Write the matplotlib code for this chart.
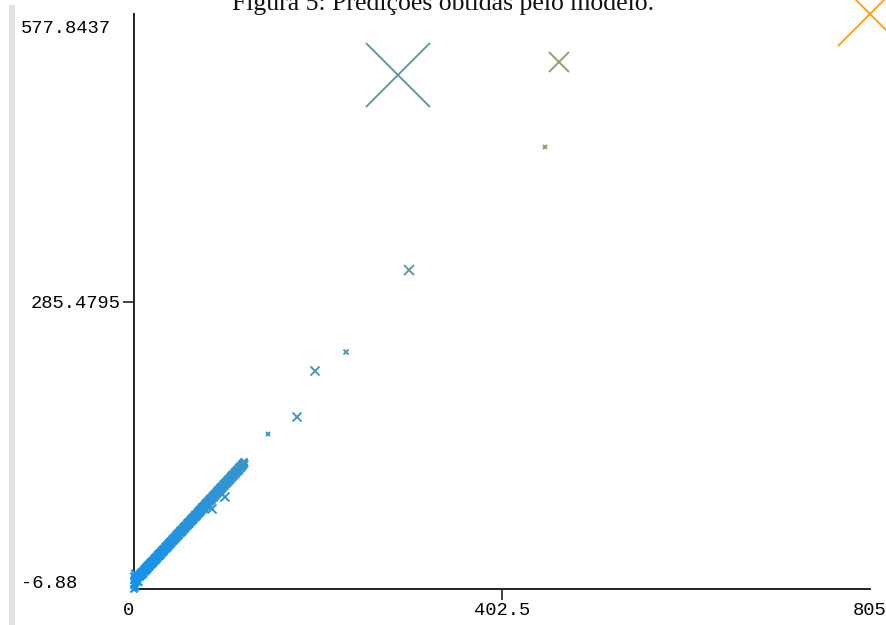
import matplotlib
matplotlib.use("Agg")
import matplotlib.pyplot as plt
from matplotlib.colors import LinearSegmentedColormap
from matplotlib.patches import Rectangle
from matplotlib.transforms import blended_transform_factory
import numpy as np

# ---- data -------------------------------------------------------------
titulo = "Figura 5: Predições obtidas pelo modelo."
x_min, x_max = 0, 805
y_min, y_max = -6.88, 577.8437
x_tick_labels = ["0", "402.5", "805"]
y_tick_labels = ["-6.88", "285.4795", "577.8437"]

# dense cluster of (real, predicted) values
cluster_real = [0, 0, 0, 0, 1, 1, 2, 2, 3, 3, 4, 5, 5,
                6, 7, 8, 9, 10, 11, 12, 13, 14, 15, 16, 17, 18, 19, 20,
                21, 22, 23, 24, 25, 26, 27, 28, 29, 30, 31, 32, 33, 34, 35,
                36, 37, 38, 39, 40, 41, 42, 43, 44, 45, 46, 47, 48, 49, 50,
                51, 52, 53, 54, 55, 56, 57, 58, 59, 60, 61, 62, 63, 64, 65,
                66, 67, 68, 69, 70, 71, 72, 73, 74, 75, 76, 77, 78, 79, 80,
                81, 82, 83, 84, 85, 86, 87, 88, 89, 90, 91, 92, 93, 94, 95,
                96, 97, 98, 99, 100, 101, 102, 103, 104, 105, 106, 107, 108,
                109, 110, 111, 112, 113, 114, 115, 116, 117, 118, 119, 120, 121]
cluster_pred = [-6.88, -3.0, 2.0, 6.0, 9.0, -1.0, 4.0, -5.0, 1.0, 7.0, 3.0, 6.0, 0.0,
                7.2, 5.9, 10.1, 8.4, 8.0, 12.6, 11.3, 15.2, 12.4, 16.1, 17.8, 15.6, 19.9, 18.2, 21.5,
                19.4, 23.8, 22.1, 25.6, 23.2, 27.9, 26.3, 29.4, 27.1, 31.8, 30.2, 33.5, 31.4, 35.9, 34.0,
                37.2, 35.3, 39.8, 38.1, 41.6, 39.5, 43.9, 42.2, 45.1, 43.4, 47.8, 46.0, 49.6, 47.5, 51.9,
                50.3, 53.2, 51.1, 55.7, 54.2, 57.5, 55.6, 59.8, 58.0, 61.4, 59.3, 63.7, 62.1, 65.5, 63.4,
                67.9, 66.2, 69.1, 67.3, 71.8, 70.0, 73.6, 71.5, 75.9, 74.1, 77.3, 75.2, 79.7, 78.0, 81.5,
                79.6, 83.8, 82.3, 85.2, 83.5, 87.9, 86.1, 89.4, 87.7, 91.8, 90.2, 93.6, 91.4, 95.9, 94.3,
                97.1, 95.5, 99.7, 98.2, 101.4, 99.6, 103.9, 102.1, 105.3, 103.6, 107.8, 106.2, 109.5,
                107.7, 111.9, 110.1, 113.6, 111.8, 115.2, 113.4, 117.7, 116.0, 119.4, 117.9, 121.6, 120.3]

cluster_real_b = [6.5, 7.5, 8.5, 9.5, 10.5, 11.5, 12.5, 13.5, 14.5, 15.5, 16.5, 17.5, 18.5,
                  19.5, 20.5, 21.5, 22.5, 23.5, 24.5, 25.5, 26.5, 27.5, 28.5, 29.5, 30.5,
                  31.5, 32.5, 33.5, 34.5, 35.5, 36.5, 37.5, 38.5, 39.5, 40.5, 41.5, 42.5,
                  43.5, 44.5, 45.5, 46.5, 47.5, 48.5, 49.5, 50.5, 51.5, 52.5, 53.5, 54.5,
                  55.5, 56.5, 57.5, 58.5, 59.5, 60.5, 61.5, 62.5, 63.5, 64.5, 65.5, 66.5,
                  67.5, 68.5, 69.5, 70.5, 71.5, 72.5, 73.5, 74.5, 75.5, 76.5, 77.5, 78.5,
                  79.5, 80.5, 81.5, 82.5, 83.5, 84.5, 85.5, 86.5, 87.5, 88.5, 89.5, 90.5,
                  91.5, 92.5, 93.5, 94.5, 95.5, 96.5, 97.5, 98.5, 99.5, 100.5, 101.5, 102.5,
                  103.5, 104.5, 105.5, 106.5, 107.5, 108.5, 109.5, 110.5, 111.5, 112.5,
                  113.5, 114.5, 115.5, 116.5, 117.5, 118.5, 119.5, 120.5]
cluster_pred_b = [5.3, 9.6, 7.1, 11.4, 9.0, 13.8, 10.9, 14.6, 16.9, 13.8, 18.4, 16.2, 20.7,
                  17.9, 22.3, 20.1, 24.6, 21.8, 26.2, 24.4, 28.7, 25.9, 30.3, 28.2, 32.6,
                  29.8, 34.1, 32.5, 36.7, 33.9, 38.4, 36.1, 40.6, 37.8, 42.2, 40.4, 44.7,
                  41.9, 46.3, 44.2, 48.6, 45.8, 50.4, 48.1, 52.7, 49.9, 54.3, 52.2, 56.6,
                  53.8, 58.1, 56.4, 60.7, 57.9, 62.4, 60.2, 64.6, 61.8, 66.3, 64.1, 68.7,
                  65.9, 70.2, 68.4, 72.6, 69.8, 74.4, 72.1, 76.7, 73.9, 78.3, 76.2, 80.6,
                  77.8, 82.4, 80.1, 84.7, 81.9, 86.2, 84.3, 88.6, 85.8, 90.3, 88.2, 92.7,
                  89.9, 94.4, 92.1, 96.6, 93.8, 98.2, 96.4, 100.7, 97.9, 102.3, 100.2, 104.6,
                  101.8, 106.4, 104.1, 108.7, 105.9, 110.2, 108.3, 112.6, 109.8, 114.4,
                  112.2, 116.7, 113.9, 118.3, 116.1, 120.6, 118.4, 122.4]

# separate points (real, predicted, magnitude)
outlier_real = [85.3, 99.5, 146.6, 178.3, 198.0, 231.9, 300.8, 449.5, 464.8, 288.7, 805.0]
outlier_pred = [74.5, 86.7, 150.7, 168.0, 214.8, 234.1, 317.5, 442.6, 529.0, 515.8, 577.8437]
outlier_mag = [9, 9, 4, 9, 9, 5, 10, 4, 20, 64, 64]
cluster_mag = 7

# ---- figure -----------------------------------------------------------
W, H, DPI = 887, 625, 100
fig = plt.figure(figsize=(W / DPI, H / DPI), dpi=DPI)
fig.patch.set_facecolor("white")

# light grey strip on the left edge
fig.patches.append(Rectangle((9 / W, 0), 6 / W, 1 - 5 / H, transform=fig.transFigure,
                             facecolor="#e2e2e2", edgecolor="none", zorder=0))

ax = fig.add_axes([134 / W, 1 - 589 / H, (870 - 134) / W, (589 - 14) / H])
ax.set_xlim(x_min, x_max)
ax.set_ylim(y_min, y_max)
for s in ("top", "right"):
    ax.spines[s].set_visible(False)
for s in ("left", "bottom"):
    ax.spines[s].set_color("#222222")
    ax.spines[s].set_linewidth(1.4)

cmap = LinearSegmentedColormap.from_list("bo", ["#1592ea", "#ffa11c"])


def size_of(m):
    return (np.asarray(m, dtype=float) * 0.72) ** 2

all_real = cluster_real + cluster_real_b
all_pred = cluster_pred + cluster_pred_b
ax.scatter(all_real, all_pred, s=size_of([cluster_mag] * len(all_real)),
           marker="x", c=cmap(np.asarray(all_real) / x_max), linewidths=1.6,
           clip_on=False, zorder=3)
ax.scatter(outlier_real, outlier_pred, s=size_of(outlier_mag), marker="x",
           c=cmap(np.asarray(outlier_real) / x_max), linewidths=1.4,
           clip_on=False, zorder=3)

mono = "Liberation Mono"
fs = 13.5
ax.set_xticks([x_min, (x_min + x_max) / 2, x_max])
ax.set_xticklabels(x_tick_labels, fontfamily=mono, fontsize=fs)
ax.set_yticks([y_min, (y_min + y_max) / 2, y_max])
ax.set_yticklabels(["", y_tick_labels[1], ""], fontfamily=mono, fontsize=fs)
ax.tick_params(axis="both", length=8, width=1.2, color="#222222", pad=1.5)

xt = ax.xaxis.get_major_ticks()
xt[0].tick1line.set_visible(False)
xt[2].tick1line.set_visible(False)
xt[0].label1.set_horizontalalignment("right")
yt = ax.yaxis.get_major_ticks()
yt[0].tick1line.set_visible(False)
yt[2].tick1line.set_visible(False)

# end labels of the y axis, left-aligned like the reference
tr = blended_transform_factory(fig.transFigure, ax.transData)
ax.text(21 / W, y_max - 14.5, y_tick_labels[2], transform=tr, ha="left", va="center",
        fontfamily=mono, fontsize=fs)
ax.text(21 / W, y_min + 6.0, y_tick_labels[0], transform=tr, ha="left", va="center",
        fontfamily=mono, fontsize=fs)

fig.text(443 / W, 1 - 10 / H, titulo, ha="center", va="baseline",
         fontfamily="Liberation Serif", fontsize=18.5, color="#111111")

fig.savefig("out.png", dpi=DPI)
